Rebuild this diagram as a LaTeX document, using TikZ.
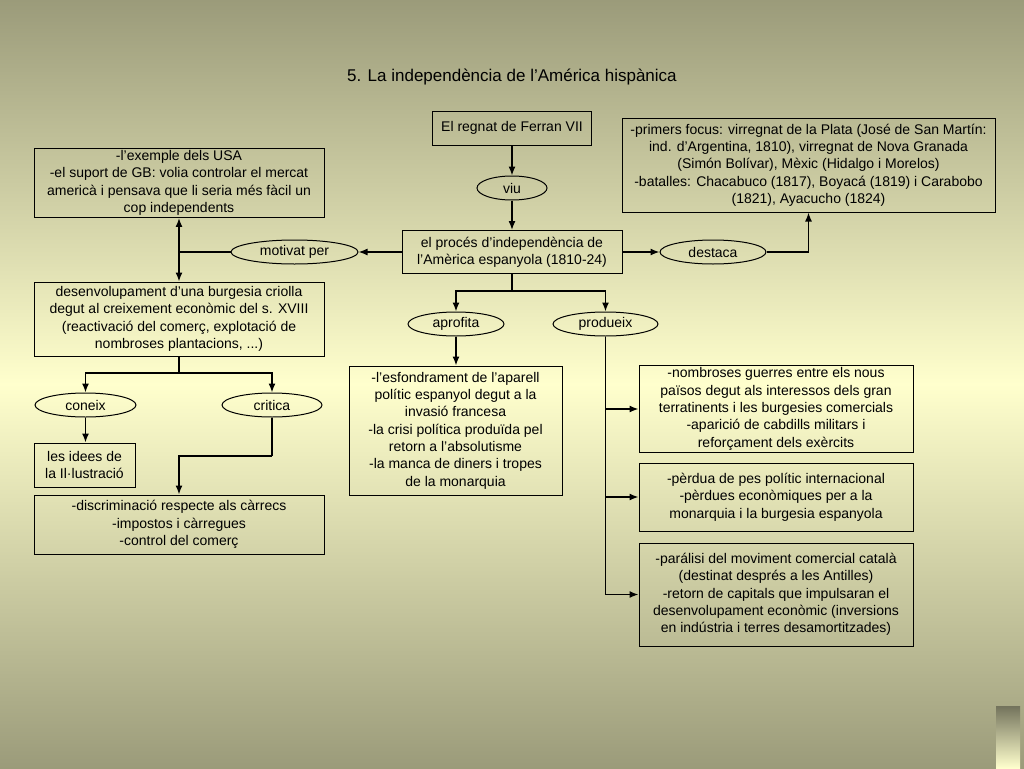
\documentclass[tikz,border=0pt]{standalone}
\usepackage{fontspec}
\setmainfont{Liberation Sans}
\usetikzlibrary{shapes,arrows,arrows.meta}
\definecolor{bgdark}{RGB}{155,155,122}
\definecolor{bglight}{RGB}{255,255,205}
\definecolor{tabdark}{RGB}{115,115,92}
\tikzstyle{concept} = [rectangle, draw=black, line width=1pt, align=center, inner sep=2pt, font=\fontsize{14}{17.3}\selectfont]
\tikzstyle{link} = [ellipse, draw=black, line width=1pt, inner sep=0pt, minimum height=24pt, font=\fontsize{14}{15}\selectfont]
\tikzstyle{arrow} = [line width=1.4pt,->,>={Latex[length=9pt,width=7pt]}]
\tikzstyle{line} = [line width=1.4pt]

\begin{document}
\begin{tikzpicture}[x=1pt,y=-1pt]
\useasboundingbox (0,0) rectangle (1024,768);
\shade [top color=bgdark, bottom color=bgdark, middle color=bglight] (0,0) rectangle (1024,768);
\shade [top color=tabdark, bottom color=bglight] (996,706) rectangle (1020,768);

\node (title) at (512,77) [font=\fontsize{17}{19}\selectfont] {5. La independència de l’América hispànica};

% eix central
\node (ferran) at (512,128) [concept, minimum width=159pt, minimum height=34pt] {El regnat de Ferran VII};
\node (viu) at (512,188) [link, minimum width=70pt] {viu};
\node (proces) at (512,252) [concept, minimum width=220pt, minimum height=43pt] {el procés d’independència de\\l’Amèrica espanyola (1810-24)};
\node (destaca) at (713,252) [link, minimum width=106pt] {destaca};
\node (focus) at (808.5,165) [concept, minimum width=373pt, minimum height=94pt] {-primers focus: virregnat de la Plata (José de San Martín:\\ind. d’Argentina, 1810), virregnat de Nova Granada\\(Simón Bolívar), Mèxic (Hidalgo i Morelos)\\-batalles: Chacabuco (1817), Boyacá (1819) i Carabobo\\(1821), Ayacucho (1824)};

% causes
\node (motivat) at (294.5,252) [link, minimum width=127pt] {motivat per};
\node (exemple) at (179,183) [concept, minimum width=290pt, minimum height=68pt] {-l’exemple dels USA\\-el suport de GB: volia controlar el mercat\\americà i pensava que li seria més fàcil un\\cop independents};
\node (burgesia) at (179,319) [concept, minimum width=290pt, minimum height=74pt] {desenvolupament d’una burgesia criolla\\degut al creixement econòmic del s. XVIII\\(reactivació del comerç, explotació de\\nombroses plantacions, ...)};
\node (coneix) at (85.5,405) [link, minimum width=101pt] {coneix};
\node (critica) at (272,405) [link, minimum width=100pt] {critica};
\node (idees) at (84.5,465) [concept, minimum width=101pt, minimum height=44pt] {les idees de\\la Il·lustració};
\node (discrim) at (179,524.5) [concept, minimum width=290pt, minimum height=59pt] {-discriminació respecte als càrrecs\\-impostos i càrregues\\-control del comerç};

% conseqüencies
\node (aprofita) at (456,324) [link, minimum width=96pt] {aprofita};
\node (produeix) at (605.5,324) [link, minimum width=105pt] {produeix};
\node (esfondrament) at (455.5,430.5) [concept, minimum width=213pt, minimum height=129pt] {-l’esfondrament de l’aparell\\polític espanyol degut a la\\invasió francesa\\-la crisi política produïda pel\\retorn a l’absolutisme\\-la manca de diners i tropes\\de la monarquia};
\node (guerres) at (776,409) [concept, minimum width=274pt, minimum height=86pt] {-nombroses guerres entre els nous\\països degut als interessos dels gran\\terratinents i les burgesies comercials\\-aparició de cabdills militars i\\reforçament dels exèrcits};
\node (perdua) at (776,497) [concept, minimum width=274pt, minimum height=68pt] {-pèrdua de pes polític internacional\\-pèrdues econòmiques per a la\\monarquia i la burgesia espanyola};
\node (paralisi) at (776,594.5) [concept, minimum width=274pt, minimum height=103pt] {-parálisi del moviment comercial català\\(destinat després a les Antilles)\\-retorn de capitals que impulsaran el\\desenvolupament econòmic (inversions\\en indústria i terres desamortitzades)};

\coordinate (mjoin) at (179,252);
\coordinate (pfork) at (512,291);
\coordinate (dfork) at (179,373);
\coordinate (cbend) at (272,456);

\draw [arrow] (ferran) -- (viu);
\draw [arrow] (viu) -- (proces);
\draw [arrow] (proces) -- (destaca);
\draw [arrow] (destaca.east) -| (focus.south);
\draw [arrow] (proces.west) -- (motivat.east);
\draw [line] (motivat.west) -- (mjoin);
\draw [arrow] (mjoin) -- (exemple.south);
\draw [arrow] (mjoin) -- (burgesia.north);
\draw [line] (burgesia.south) -- (dfork);
\draw [arrow] (dfork) -| (coneix.north);
\draw [arrow] (dfork) -| (critica.north);
\draw [arrow] (coneix) -- (coneix |- idees.north);
\draw [line] (critica.south) -- (cbend);
\draw [arrow] (cbend) -| (discrim.north);
\draw [line] (proces.south) -- (pfork);
\draw [arrow] (pfork) -| (aprofita.north);
\draw [arrow] (pfork) -| (produeix.north);
\draw [arrow] (aprofita) -- (aprofita |- esfondrament.north);
\draw [line] (produeix.south) -- (produeix |- paralisi.west);
\draw [arrow] (produeix |- guerres.west) -- (guerres.west);
\draw [arrow] (produeix |- perdua.west) -- (perdua.west);
\draw [arrow] (produeix |- paralisi.west) -- (paralisi.west);
\end{tikzpicture}
\end{document}
